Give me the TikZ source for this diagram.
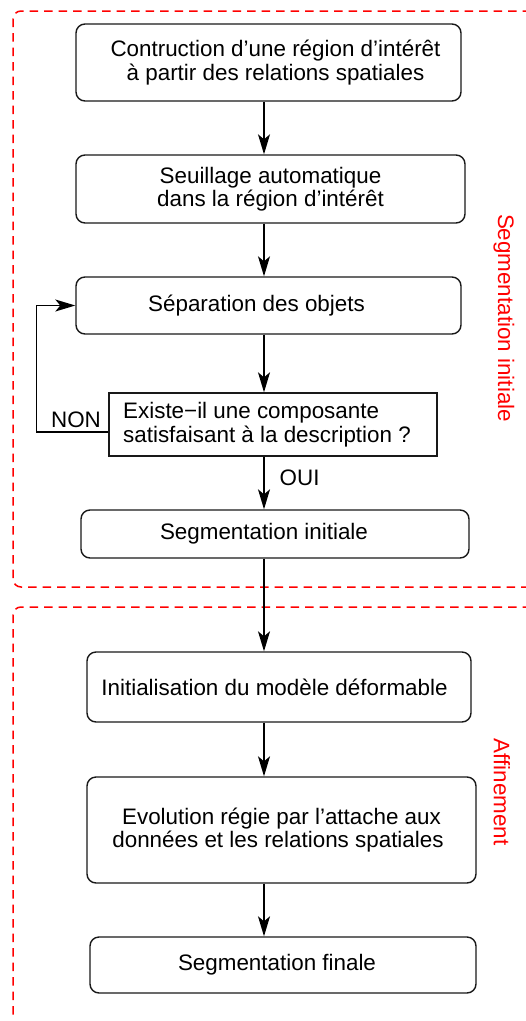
\documentclass[tikz,border=0pt]{standalone}
\usepackage{fontspec}
\setmainfont{Liberation Sans}
\usetikzlibrary{arrows.meta}
\begin{document}
\begin{tikzpicture}[x=1pt,y=-1pt,
  every node/.style={font=\fontsize{22.4}{23.5}\selectfont, inner sep=0pt},
  rbox/.style={draw=black!90, line width=1.4pt, rounded corners=9pt, align=center},
  sbox/.style={draw=black!90, line width=1.4pt, align=left},
  arr/.style={line width=1.3pt, -{Stealth[length=20pt,width=12pt,inset=5pt]}},
  frame/.style={draw=red, line width=1.5pt, dash pattern=on 8.5pt off 6pt, rounded corners=8pt},
  lab/.style={text=red, rotate=-90}]
\useasboundingbox (0,0) rectangle (526,1021);
% dashed group frames
\draw[frame] (560,11) -- (13,11) -- (13,587) -- (560,587);
\draw[frame] (560,607) -- (13,607) -- (13,1017);
\node[lab] (l1) at (504,318) {Segmentation initiale};
\node[lab] (l2) at (502,792) {Affinement};
% boxes
\node[rbox, minimum width=385pt, minimum height=77pt] (b1) at (268.5,62.5)
  {\hspace*{14pt}Contruction d’une région d’intérêt\\\hspace*{14pt}à partir des relations spatiales};
\node[rbox, minimum width=389pt, minimum height=68pt] (b2) at (270.5,189)
  {Seuillage automatique\\dans la région d’intérêt};
\node[rbox, minimum width=385pt, minimum height=57pt] (b3) at (268.5,305.5)
  {Séparation des objets\hspace*{24pt}};
\node[sbox, minimum width=328pt, minimum height=63pt] (b4) at (273,424.5)
  {Existe−il une composante\\satisfaisant à la description ?\hspace*{12pt}};
\node[rbox, minimum width=388pt, minimum height=48pt] (b5) at (275,534)
  {Segmentation initiale\hspace*{22pt}};
\node[rbox, minimum width=384pt, minimum height=70pt] (b6) at (279,687)
  {Initialisation du modèle déformable\hspace*{9pt}};
\node[rbox, minimum width=389pt, minimum height=106pt] (b7) at (281.5,830)
  {Evolution régie par l’attache aux\\données et les relations spatiales\hspace*{7pt}};
\node[rbox, minimum width=386pt, minimum height=56pt] (b8) at (283,965)
  {Segmentation finale\hspace*{12pt}};
% arrows
\coordinate (xa) at (264,0);
\draw[arr] (b1.south -| xa) -- (b2.north -| xa);
\draw[arr] (b2.south -| xa) -- (b3.north -| xa);
\draw[arr] (b3.south -| xa) -- (b4.north -| xa);
\draw[arr] (b4.south -| xa) -- node[right=15pt, pos=0.4] (oui) {OUI} (b5.north -| xa);
\draw[arr] (b5.south -| xa) -- (b6.north -| xa);
\draw[arr] (b6.south -| xa) -- (b7.north -| xa);
\draw[arr] (b7.south -| xa) -- (b8.north -| xa);
% NON loop
\draw[arr] ([yshift=-7.5pt]b4.west) -- ++(-72,0) |- (b3.west);
\node (non) at (76,420) {NON};
\end{tikzpicture}
\end{document}
